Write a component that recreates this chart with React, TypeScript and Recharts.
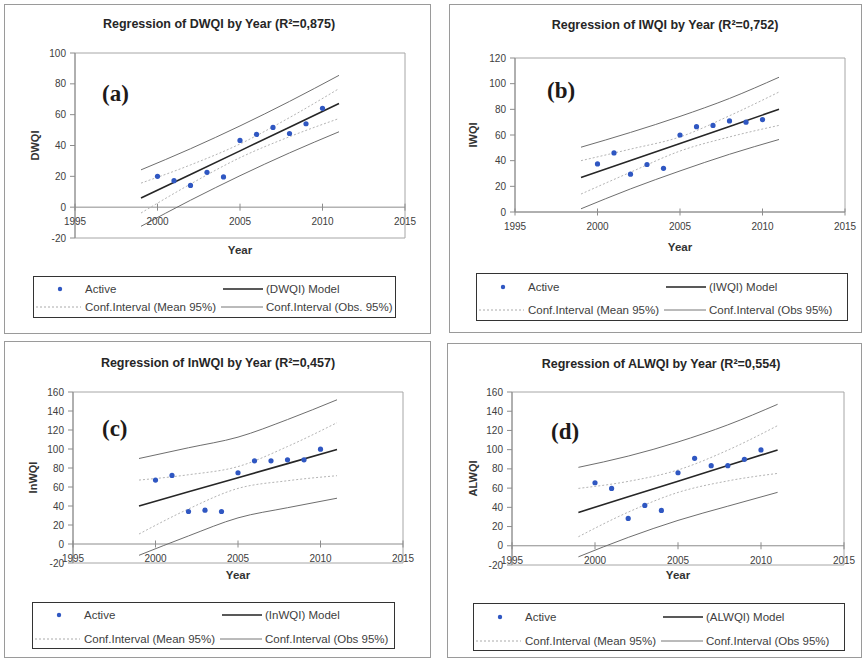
import React from "react";
import {
  ComposedChart,
  Line,
  Scatter,
  XAxis,
  YAxis,
  ReferenceLine,
  ReferenceArea,
} from "recharts";

const FONT = '"Liberation Sans", Arial, sans-serif';
const BLUE = "#2f57c2";

// years with observations, and the years where the fitted bands were read
const YEARS = [2000, 2001, 2002, 2003, 2004, 2005, 2006, 2007, 2008, 2009, 2010];
const FIT_YEARS = [1999, 2002, 2005, 2008, 2011];
const X_TICKS = [1995, 2000, 2005, 2010, 2015];

// (a) DWQI
const DWQI_ACTIVE = [20, 17.2, 14.1, 22.6, 19.6, 43.3, 47.2, 51.7, 47.8, 54.1, 64.1];
const DWQI_MODEL = [5.9, 21.2, 36.5, 51.9, 67.2];
const DWQI_MEAN_HI = [15.6, 27.4, 41, 58.1, 76.9];
const DWQI_MEAN_LO = [-3.8, 15, 32.1, 45.7, 57.5];
const DWQI_OBS_HI = [24.2, 37.9, 52.7, 68.6, 85.5];
const DWQI_OBS_LO = [-12.4, 4.5, 20.4, 35.2, 48.9];

// (b) IWQI
const IWQI_ACTIVE = [37.5, 46, 29.5, 37, 34, 60, 66.5, 67.5, 71, 70, 72];
const IWQI_MODEL = [26.8, 40.1, 53.4, 66.7, 80];
const IWQI_MEAN_HI = [40, 49, 58.5, 75, 93.5];
const IWQI_MEAN_LO = [14, 31, 47.5, 58.5, 67.5];
const IWQI_OBS_HI = [50.5, 62, 74.5, 88.5, 105];
const IWQI_OBS_LO = [2.5, 18, 32, 45, 56.5];

// (c) InWQI
const INWQI_ACTIVE = [67.3, 72.2, 34.2, 35.6, 34.2, 75, 87.6, 87.6, 88.6, 88.6, 99.8];
const INWQI_MODEL = [40.1, 54.9, 69.8, 84.6, 99.4];
const INWQI_MEAN_HI = [67.3, 72.9, 81.5, 102.6, 127.7];
const INWQI_MEAN_LO = [10.5, 36.9, 58.5, 66.6, 71.9];
const INWQI_OBS_HI = [90, 101.3, 112.5, 131, 151.8];
const INWQI_OBS_LO = [-11.9, 8.5, 27.5, 38.2, 48.2];

// (d) ALWQI
const ALWQI_ACTIVE = [65.6, 59.7, 28.5, 42, 36.8, 76, 91, 83.3, 83.3, 90, 99.7];
const ALWQI_MODEL = [34.7, 51, 67.2, 83.5, 99.7];
const ALWQI_MEAN_HI = [59.7, 67, 78.9, 99.5, 125];
const ALWQI_MEAN_LO = [9.4, 35, 55.5, 67.5, 75.3];
const ALWQI_OBS_HI = [81.6, 93.3, 108, 125.8, 147.2];
const ALWQI_OBS_LO = [-11.5, 8.7, 26.4, 41.2, 55.6];

const TICKS_100 = [-20, 0, 20, 40, 60, 80, 100];
const TICKS_120 = [0, 20, 40, 60, 80, 100, 120];
const TICKS_160 = [-20, 0, 20, 40, 60, 80, 100, 120, 140, 160];

const pts = (xs: number[], ys: number[]) => xs.map((x, i) => ({ year: x, value: ys[i] }));

const panels = [
  {
    tag: "(a)", name: "DWQI", r2: "0,875", obsText: "Conf.Interval (Obs. 95%)",
    active: DWQI_ACTIVE, model: DWQI_MODEL, meanHi: DWQI_MEAN_HI, meanLo: DWQI_MEAN_LO, obsHi: DWQI_OBS_HI, obsLo: DWQI_OBS_LO,
    yMin: -20, yMax: 100, yTicks: TICKS_100,
    left: 4, top: 4, w: 427, h: 330,
    margin: { top: 49, right: 26, left: 0, bottom: 76 }, yAxisW: 71,
    titleX: 215, titleY: 20, tagX: 98, tagY: 90, yLabelX: 31, yearDy: 16,
    legend: { left: 29, top: 272, w: 363, h: 42, r1: 13, r2: 31 },
  },
  {
    tag: "(b)", name: "IWQI", r2: "0,752", obsText: "Conf.Interval (Obs 95%)",
    active: IWQI_ACTIVE, model: IWQI_MODEL, meanHi: IWQI_MEAN_HI, meanLo: IWQI_MEAN_LO, obsHi: IWQI_OBS_HI, obsLo: IWQI_OBS_LO,
    yMin: 0, yMax: 120, yTicks: TICKS_120,
    left: 449, top: 4, w: 413, h: 329,
    margin: { top: 54, right: 17, left: 0, bottom: 101 }, yAxisW: 66,
    titleX: 216, titleY: 21, tagX: 98, tagY: 87, yLabelX: 24, yearDy: 39,
    legend: { left: 27, top: 269, w: 372, h: 48, r1: 14, r2: 37 },
  },
  {
    tag: "(c)", name: "InWQI", r2: "0,457", obsText: "Conf.Interval (Obs 95%)",
    active: INWQI_ACTIVE, model: INWQI_MODEL, meanHi: INWQI_MEAN_HI, meanLo: INWQI_MEAN_LO, obsHi: INWQI_OBS_HI, obsLo: INWQI_OBS_LO,
    yMin: -20, yMax: 160, yTicks: TICKS_160,
    left: 4, top: 341, w: 427, h: 317,
    margin: { top: 51, right: 28, left: 0, bottom: 75 }, yAxisW: 69,
    titleX: 214, titleY: 22, tagX: 98, tagY: 88, yLabelX: 29, yearDy: 16,
    legend: { left: 28, top: 261, w: 363, h: 47, r1: 13, r2: 37 },
  },
  {
    tag: "(d)", name: "ALWQI", r2: "0,554", obsText: "Conf.Interval (Obs 95%)",
    active: ALWQI_ACTIVE, model: ALWQI_MODEL, meanHi: ALWQI_MEAN_HI, meanLo: ALWQI_MEAN_LO, obsHi: ALWQI_OBS_HI, obsLo: ALWQI_OBS_LO,
    yMin: -20, yMax: 160, yTicks: TICKS_160,
    left: 447, top: 343, w: 415, h: 315,
    margin: { top: 49, right: 18, left: 0, bottom: 73 }, yAxisW: 65,
    titleX: 214, titleY: 21, tagX: 104, tagY: 89, yLabelX: 26, yearDy: 14,
    legend: { left: 26, top: 260, w: 372, h: 48, r1: 14, r2: 38 },
  },
];

const XTick = (props: any) => {
  const { x, y, payload, zeroDy } = props;
  const zy = y - zeroDy;
  return (
    <g>
      <line x1={x} x2={x} y1={zy - 3.5} y2={zy + 3.5} stroke="#8c8c8c" />
      <text x={x} y={zy + 18} textAnchor="middle" fontSize={10} fill="#404040" fontFamily={FONT}>
        {payload.value}
      </text>
    </g>
  );
};

const Dot = (props: any) => <circle cx={props.cx} cy={props.cy} r={2.6} fill={BLUE} />;

const LegendBox = ({ p }: { p: any }) => {
  const L = p.legend;
  return (
    <div
      style={{
        position: "absolute", left: L.left, top: L.top, width: L.w, height: L.h,
        border: "1px solid #333", boxSizing: "border-box",
      }}
    >
      <svg width={L.w} height={L.h} style={{ position: "absolute", left: -1, top: -1 }}>
        <g fontFamily={FONT} fontSize={11.5} fill="#404040">
          <circle cx={27} cy={L.r1} r={2.2} fill={BLUE} />
          <text x={52} y={L.r1 + 4}>Active</text>
          <line x1={190} x2={230} y1={L.r1} y2={L.r1} stroke="#222" strokeWidth={1.5} />
          <text x={233} y={L.r1 + 4}>({p.name}) Model</text>
          <line x1={3} x2={48} y1={L.r2} y2={L.r2} stroke="#aaa" strokeDasharray="2 2" />
          <text x={52} y={L.r2 + 4}>Conf.Interval (Mean 95%)</text>
          <line x1={188} x2={230} y1={L.r2} y2={L.r2} stroke="#777" />
          <text x={233} y={L.r2 + 4}>{p.obsText}</text>
        </g>
      </svg>
    </div>
  );
};

const Panel = ({ p }: { p: any }) => {
  const plotH = p.h - p.margin.top - p.margin.bottom - 20;
  const zeroDy = (plotH * (0 - p.yMin)) / (p.yMax - p.yMin);
  return (
    <div style={{ position: "absolute", left: p.left, top: p.top, width: p.w, height: p.h }}>
      <div
        style={{
          position: "absolute", inset: 0, border: "1px solid #9a9a9a",
          boxSizing: "border-box", pointerEvents: "none",
        }}
      />
      <div style={{ position: "absolute", left: 0, top: 0 }}>
        <ComposedChart width={p.w} height={p.h} margin={p.margin}>
          <XAxis
            dataKey="year"
            type="number"
            domain={[1995, 2015]}
            ticks={X_TICKS}
            interval={0}
            allowDataOverflow
            axisLine={false}
            tickLine={false}
            tickSize={0}
            tickMargin={0}
            height={20}
            tick={(tp: any) => <XTick {...tp} zeroDy={zeroDy} />}
            label={{
              content: ({ viewBox }: any) => (
                <text
                  x={viewBox.x + viewBox.width / 2}
                  y={viewBox.y + p.yearDy}
                  textAnchor="middle"
                  fontSize={11.5}
                  fontWeight="bold"
                  fill="#333"
                  fontFamily={FONT}
                >
                  Year
                </text>
              ),
            }}
          />
          <YAxis
            type="number"
            domain={[p.yMin, p.yMax]}
            ticks={p.yTicks}
            interval={0}
            allowDataOverflow
            width={p.yAxisW}
            axisLine={{ stroke: "#8c8c8c" }}
            tickLine={{ stroke: "#8c8c8c" }}
            tickSize={5}
            tickMargin={4}
            tick={{ fontSize: 10, fill: "#404040", fontFamily: FONT }}
            label={{
              content: ({ viewBox }: any) => {
                const cx = viewBox.x + p.yLabelX;
                const cy = viewBox.y + viewBox.height / 2;
                return (
                  <text
                    x={cx}
                    y={cy}
                    transform={`rotate(-90 ${cx} ${cy})`}
                    textAnchor="middle"
                    dominantBaseline="central"
                    fontSize={11}
                    fontWeight="bold"
                    fill="#333"
                    fontFamily={FONT}
                  >
                    {p.name}
                  </text>
                );
              },
            }}
          />
          <ReferenceArea x1={1995} x2={2015} y1={p.yMin} y2={p.yMax} fill="none" stroke="#a6a6a6" ifOverflow="visible" />
          <ReferenceLine y={0} stroke="#8c8c8c" />
          <Line data={pts(FIT_YEARS, p.obsHi)} dataKey="value" type="monotone" stroke="#6e6e6e" strokeWidth={1} dot={false} isAnimationActive={false} />
          <Line data={pts(FIT_YEARS, p.obsLo)} dataKey="value" type="monotone" stroke="#6e6e6e" strokeWidth={1} dot={false} isAnimationActive={false} />
          <Line data={pts(FIT_YEARS, p.meanHi)} dataKey="value" type="monotone" stroke="#b4b4b4" strokeWidth={1} strokeDasharray="2 2" dot={false} isAnimationActive={false} />
          <Line data={pts(FIT_YEARS, p.meanLo)} dataKey="value" type="monotone" stroke="#b4b4b4" strokeWidth={1} strokeDasharray="2 2" dot={false} isAnimationActive={false} />
          <Line data={pts(FIT_YEARS, p.model)} dataKey="value" type="linear" stroke="#262626" strokeWidth={1.6} dot={false} isAnimationActive={false} />
          <Scatter data={pts(YEARS, p.active)} dataKey="value" shape={<Dot />} isAnimationActive={false} />
        </ComposedChart>
      </div>
      <div
        style={{
          position: "absolute", left: p.titleX, top: p.titleY - 8, transform: "translateX(-50%)",
          whiteSpace: "nowrap", fontFamily: FONT, fontSize: 12.5, fontWeight: "bold", color: "#262626",
          lineHeight: "16px",
        }}
      >
        Regression of {p.name} by Year (R²={p.r2})
      </div>
      <div
        style={{
          position: "absolute", left: p.tagX, top: p.tagY - 14, fontFamily: '"Liberation Serif", serif',
          fontSize: 23, fontWeight: "bold", color: "#1e1a18", lineHeight: "28px",
        }}
      >
        {p.tag}
      </div>
      <LegendBox p={p} />
    </div>
  );
};

const App = () => (
  <div style={{ position: "absolute", left: 0, top: 0, width: 867, height: 659, background: "#fff", overflow: "hidden" }}>
    {panels.map((p) => (
      <Panel key={p.tag} p={p} />
    ))}
  </div>
);

export default App;
